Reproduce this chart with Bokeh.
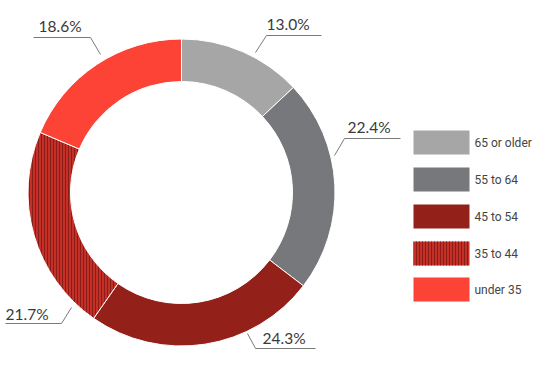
import numpy as np
from bokeh.plotting import figure
from bokeh.models import Range1d
from bokeh.core.properties import value
from bokeh.embed import file_html
from bokeh.resources import INLINE

# ---- data ----
categories = ["65 or older", "55 to 64", "45 to 54", "35 to 44", "under 35"]
shares = [13.0, 22.4, 24.3, 21.7, 18.6]
pct_labels = ["13.0%", "22.4%", "24.3%", "21.7%", "18.6%"]

# ---- style ----
colors = ["#a6a6a6", "#77787b", "#94201a", "#c43028", "#fc4335"]
hatches = [None, None, None, "vertical_line", None]
W, H = 535, 351
def Y(y):
    return H - y

p = figure(width=W, height=H, output_backend="svg", toolbar_location=None,
           x_range=Range1d(0, W), y_range=Range1d(0, H), min_border=0)
p.axis.visible = False
p.grid.visible = False
p.outline_line_color = None

cx, cy = 181, Y(192)
r_out, r_in = 153.5, 111

fr = np.array(shares) / sum(shares)
ends = np.pi / 2 - 2 * np.pi * np.cumsum(fr)
starts = np.concatenate([[np.pi / 2], ends[:-1]])

for i in range(len(categories)):
    kw = dict(fill_color=colors[i], line_color="white", line_width=1)
    if hatches[i]:
        kw.update(hatch_pattern=hatches[i], hatch_color="#8a1d17", hatch_scale=3, hatch_weight=1.1)
    p.annular_wedge(x=cx, y=cy, inner_radius=r_in, outer_radius=r_out,
                    start_angle=starts[i], end_angle=ends[i], direction="clock", **kw)

# leader lines and labels (layout, image coords)
leaders = [
    [(255, 52), (266, 35), (321, 35)],
    [(334, 155), (344, 138), (400, 138)],
    [(247, 333), (255, 348), (315, 348)],
    [(71, 307), (61, 323), (5, 323)],
    [(100, 54), (90, 37), (33, 37)],
]
label_pos = [(266, 23), (347, 126), (262, 337), (5, 313), (38, 25)]
for pts in leaders:
    p.line([q[0] for q in pts], [Y(q[1]) for q in pts], line_color="#7a7a7a", line_width=1)
p.text(x=[q[0] for q in label_pos], y=[Y(q[1]) for q in label_pos], text=pct_labels,
       text_font=value("Lato"), text_font_size="15.5px", text_color="#3a3a3a",
       text_baseline="alphabetic", text_align="left")

# legend
box_x0, box_x1, box_h = 413, 469, 24
box_tops = [130, 167, 204, 241, 277]
for i, t in enumerate(box_tops):
    kw = dict(fill_color=colors[i], line_color=None)
    if hatches[i]:
        kw.update(hatch_pattern=hatches[i], hatch_color="#8a1d17", hatch_scale=3, hatch_weight=1.1)
    p.quad(left=box_x0, right=box_x1, top=Y(t), bottom=Y(t + box_h), **kw)
p.text(x=[474] * 5, y=[Y(t + box_h / 2) for t in box_tops], text=categories,
       text_font=value("Roboto"), text_font_size="12px", text_color="#444444",
       text_baseline="middle", text_align="left")

open("out.html", "w").write(file_html(p, INLINE))
